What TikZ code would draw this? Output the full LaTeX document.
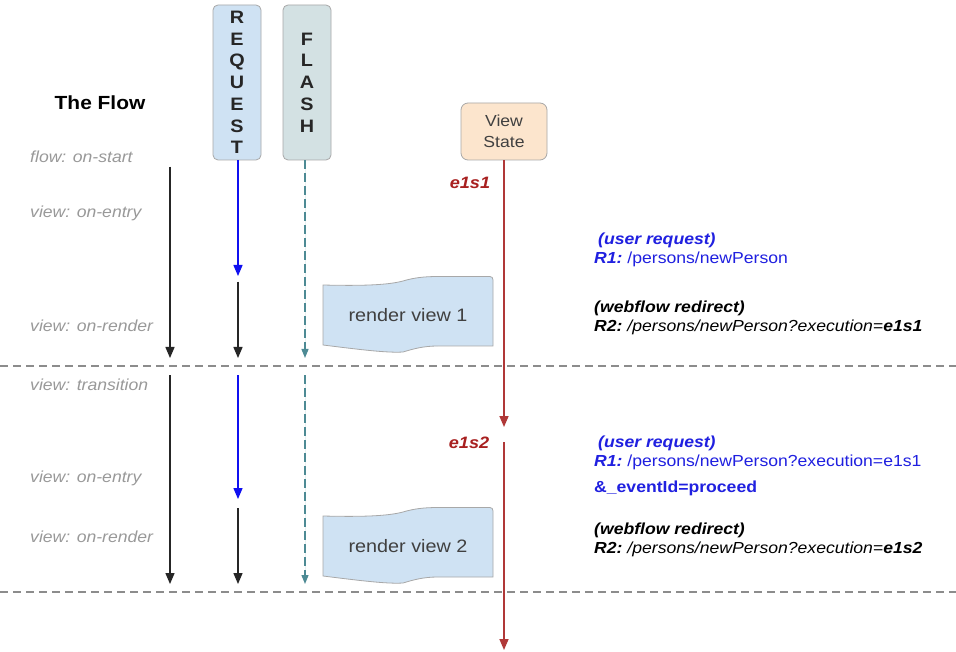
\documentclass[tikz,border=0pt]{standalone}
\usepackage{fontspec}
\setmainfont{Liberation Sans}[FakeStretch=1.1]
\usetikzlibrary{arrows.meta}
\definecolor{reqfill}{HTML}{CFE2F3}
\definecolor{flashfill}{HTML}{D3E1E3}
\definecolor{vsfill}{HTML}{FCE5CD}
\definecolor{boxline}{HTML}{A8A8A8}
\definecolor{txtblue}{HTML}{2020E0}
\definecolor{arrblue}{HTML}{1010F0}
\definecolor{dred}{HTML}{A82020}
\definecolor{lred}{HTML}{B03838}
\definecolor{teal}{HTML}{4D8A94}
\definecolor{lblgray}{HTML}{999999}
\definecolor{dashgray}{HTML}{8C8C8C}
\definecolor{rvfill}{HTML}{CFE2F3}
\newcommand{\fs}[1]{\fontsize{#1}{#1}\selectfont}
\tikzset{
  colbox/.style={draw=boxline, line width=0.8pt, rounded corners=5pt, minimum width=48pt, minimum height=155pt, inner sep=0pt, align=center, font=\bfseries\fontsize{18}{21.7}\selectfont, text=black!85},
  vsbox/.style={draw=boxline, line width=0.8pt, rounded corners=7pt, fill=vsfill, minimum width=86pt, minimum height=57pt, inner sep=0pt, align=center, font=\fontsize{16}{21}\selectfont, text=black!75},
  lbl/.style={anchor=west, inner sep=0pt, font=\itshape\fs{16}, text=lblgray},
  tip/.style={-{Triangle[width=9pt,length=11pt]}},
  blackarr/.style={tip, line width=1.3pt, draw=black!85, fill=black!85},
  bluearr/.style={tip, line width=1.3pt, draw=arrblue, fill=arrblue},
  flasharr/.style={-{Triangle[width=7pt,length=9pt]}, line width=1.3pt, draw=teal, fill=teal, dash pattern=on 9pt off 4pt},
  redarr/.style={tip, line width=1.6pt, draw=lred, fill=lred},
  sep/.style={draw=dashgray, line width=1.5pt, dash pattern=on 8pt off 5pt},
  rvshape/.style={draw=boxline, line width=0.8pt, fill=rvfill},
  rvtext/.style={inner sep=0pt, font=\fs{18}, text=black!75},
  state/.style={inner sep=0pt, font=\bfseries\itshape\fs{16.5}, text=dred},
  rtxt/.style={anchor=west, inner sep=0pt, align=left, font=\fontsize{16}{19}\selectfont},
}
\newcommand{\myrender}[3]{%
  \begin{scope}[shift={#2}]
    \draw[rvshape] (-85,-30) .. controls (-45,-29) and (-20,-30) .. (-5,-34)
      .. controls (5,-37) and (15,-38.5) .. (30,-38.5) -- (82,-38.5)
      .. controls (84,-38.5) and (85,-37) .. (85,-35) -- (85,31)
      -- (30,31) .. controls (15,31) and (5,34) .. (-5,37)
      .. controls (-20,38) and (-45,35) .. (-85,30) -- cycle;
    \node[rvtext] (#1) at (0,0) {#3};
  \end{scope}}
\begin{document}
\begin{tikzpicture}[x=1pt,y=-1pt]
\useasboundingbox[fill=white] (0,0) rectangle (956,652);

% title and column headers
\node[inner sep=0pt, font=\bfseries\fs{19}] (title) at (100,103) {The Flow};
\node[colbox, fill=reqfill] (req) at (237,82.5) {R\\E\\Q\\U\\E\\S\\T};
\node[colbox, fill=flashfill] (flash) at (307,82.5) {F\\L\\A\\S\\H};
\node[vsbox] (vs) at (504,131.5) {View\\State};

% left labels
\node[lbl] (l1) at (30,157) {flow: on-start};
\node[lbl] (l2) at (30,213) {view: on-entry};
\node[lbl] (l3) at (30,326) {view: on-render};
\node[lbl] (l4) at (30,385) {view: transition};
\node[lbl] (l5) at (30,478) {view: on-entry};
\node[lbl] (l6) at (30,537) {view: on-render};

% separators
\coordinate (s1a) at (0,366); \coordinate (s1b) at (956,366);
\coordinate (s2a) at (0,592); \coordinate (s2b) at (956,592);
\draw[sep] (s1a) -- (s1b);
\draw[sep] (s2a) -- (s2b);

% flow arrows
\coordinate (f1a) at (170,167); \coordinate (f1b) at (170,358);
\coordinate (f2a) at (170,375); \coordinate (f2b) at (170,584);
\draw[blackarr] (f1a) -- (f1b);
\draw[blackarr] (f2a) -- (f2b);

% request arrows
\coordinate (r1b) at (238,276);
\coordinate (r2a) at (238,282); \coordinate (r2b) at (238,358);
\coordinate (r3a) at (238,375); \coordinate (r3b) at (238,499);
\coordinate (r4a) at (238,508); \coordinate (r4b) at (238,584);
\draw[bluearr] (req.south -| r1b) -- (r1b);
\draw[blackarr] (r2a) -- (r2b);
\draw[bluearr] (r3a) -- (r3b);
\draw[blackarr] (r4a) -- (r4b);

% flash arrows
\coordinate (fl1b) at (305,358);
\coordinate (fl2a) at (305,375); \coordinate (fl2b) at (305,584);
\draw[flasharr] (flash.south -| fl1b) -- (fl1b);
\draw[flasharr] (fl2a) -- (fl2b);

% view state arrows
\coordinate (v1b) at (504,427);
\coordinate (v2a) at (504,442); \coordinate (v2b) at (504,650);
\draw[redarr] (vs.south) -- (v1b);
\draw[redarr] (v2a) -- (v2b);
\node[state] (e1s1) at (470,183) {e1s1};
\node[state] (e1s2) at (469,443) {e1s2};

% render views
\myrender{rv1}{(408,315)}{render view 1}
\myrender{rv2}{(408,546)}{render view 2}

% right texts
\node[rtxt, text=txtblue] (t1) at (598,240) {\bfseries\itshape (user request)};
\node[rtxt, text=txtblue] (t2) at (594,259) {\bfseries\itshape R1:\ \mdseries\upshape /persons/newPerson};
\node[rtxt] (t3) at (594,308) {\bfseries\itshape (webflow redirect)};
\node[rtxt] (t4) at (594,327) {\bfseries\itshape R2:\ \mdseries /persons/newPerson?execution=\bfseries e1s1};
\node[rtxt, text=txtblue] (t5) at (598,443) {\bfseries\itshape (user request)};
\node[rtxt, text=txtblue] (t6) at (594,462) {\bfseries\itshape R1:\ \mdseries\upshape /persons/newPerson?execution=e1s1};
\node[rtxt, text=txtblue] (t7) at (594,488) {\bfseries \&\_eventId=proceed};
\node[rtxt] (t8) at (594,530) {\bfseries\itshape (webflow redirect)};
\node[rtxt] (t9) at (594,549) {\bfseries\itshape R2:\ \mdseries /persons/newPerson?execution=\bfseries e1s2};
\end{tikzpicture}
\end{document}
